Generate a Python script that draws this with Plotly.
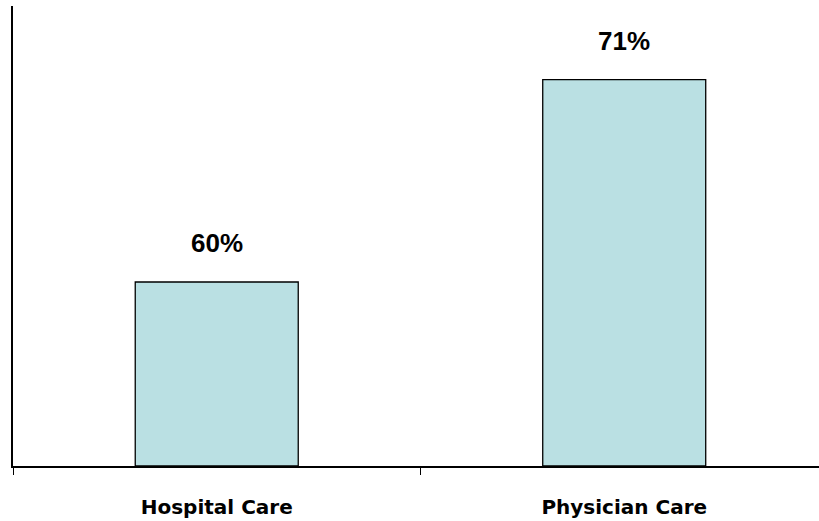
import plotly.graph_objects as go

categories = ["Hospital Care", "Physician Care"]
values = [60, 71]
labels = ["60%", "71%"]
axis_base = 50

fig = go.Figure()
fig.add_trace(go.Bar(
    x=categories, y=[v - axis_base for v in values], base=axis_base,
    width=0.4,
    marker=dict(color="#BAE0E3", line=dict(color="black", width=1.3)),
))

for c, v, t in zip(categories, values, labels):
    fig.add_annotation(x=c, y=v, text="<b>%s</b>" % t, showarrow=False,
                       yanchor="bottom", yshift=22,
                       font=dict(family="Liberation Sans, Arial", size=26, color="black"))

fig.update_layout(
    width=819, height=521,
    margin=dict(l=13, r=0, t=6, b=55),
    paper_bgcolor="white", plot_bgcolor="white",
    showlegend=False,
    xaxis=dict(range=[-0.5, 1.478], showline=True, linecolor="black", linewidth=1.5,
               ticks="outside", tickson="boundaries", ticklen=7, tickcolor="black",
               tickwidth=1,
               tickfont=dict(family="DejaVu Sans, Verdana", size=20, color="black"),
               showgrid=False, zeroline=False),
    yaxis=dict(range=[50, 75], showline=True, linecolor="black", linewidth=1.5,
               showticklabels=False, ticks="", showgrid=False, zeroline=False),
)
fig.update_xaxes(tickprefix="<b>", ticksuffix="</b>", ticklabelstandoff=22)

fig.write_html("out.html", config={"displayModeBar": False},
               post_script="document.body.style.margin='0';")
